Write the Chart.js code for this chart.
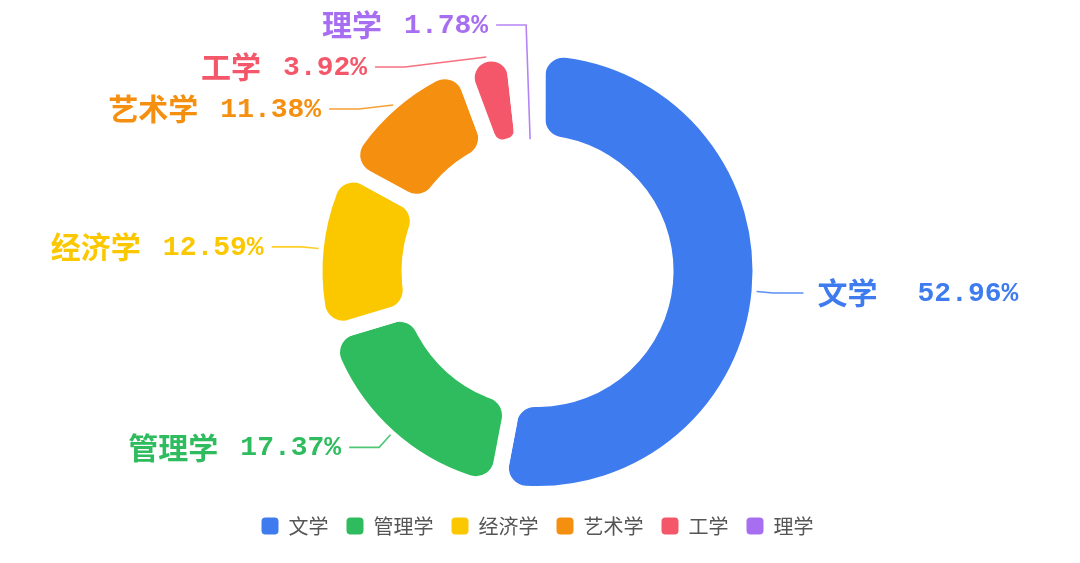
<!DOCTYPE html>
<html>
<head>
<meta charset="utf-8">
<script src="https://cdn.jsdelivr.net/npm/chart.js@4.4.0/dist/chart.umd.min.js"></script>
<style>
  html,body{margin:0;padding:0;background:#fff;}
  #wrap{width:1080px;height:563px;position:relative;}
</style>
</head>
<body>
<div id="wrap"><canvas id="pie"></canvas></div>
<script>
var subjects = ['文学','管理学','经济学','艺术学','工学','理学']
var shares = [52.96,17.37,12.59,11.38,3.92,1.78]
var colors = ['#3e7bef','#2fbc5e','#fbc800','#f58f0f','#f35769','#a76ef2']
// the 1.78% slice is swallowed by the gaps in the original, only its label shows
var fills = colors.map(function(c, i){ return shares[i] < 2 ? 'rgba(0,0,0,0)' : c })
var gapWidth = 16

// labels outside the ring, echarts style (shifted to avoid overlap)
var outLabels = {
  id: 'outLabels',
  afterDatasetsDraw: function(chart){
    var ctx = chart.ctx
    var arcs = chart.getDatasetMeta(0).data
    var len = 22, len2 = 30, gapY = 42
    var items = []
    arcs.forEach(function(arc, i){
      var p = arc.getProps(['x','y','startAngle','endAngle','outerRadius','innerRadius'], true)
      var R = p.outerRadius - gapWidth / 2
      var mid = (p.startAngle + p.endAngle) / 2
      var c = Math.cos(mid), s = Math.sin(mid)
      // a swallowed slice gets its line from the inner edge, like the original
      var a = fills[i] === colors[i] ? R + 5 : p.innerRadius + 4
      items.push({
        i: i, cx: p.x, cy: p.y, r: R,
        ax: p.x + c * a, ay: p.y + s * a,
        y: p.y + s * (R + len),
        dir: c >= 0 ? 1 : -1
      })
    })
    ;[1,-1].forEach(function(dir){
      var side = items.filter(function(it){ return it.dir === dir })
      if(!side.length) return
      side.sort(function(a,b){ return a.y - b.y })
      for(var k = 0; k < 60; k++){
        for(var j = 1; j < side.length; j++){
          var d = side[j].y - side[j-1].y
          if(d < gapY){
            side[j].y += (gapY - d) / 2
            side[j-1].y -= (gapY - d) / 2
          }
        }
        if(side[0].y < 25) side[0].y = 25
      }
      var cy = side[0].cy, rA = side[0].r + len
      var topB = rA, botB = rA
      side.forEach(function(it){
        if(it.y < cy) topB = Math.max(topB, cy - it.y)
        else botB = Math.max(botB, it.y - cy)
      })
      side.forEach(function(it){
        var dy = it.y - it.cy
        var rB = dy < 0 ? topB : botB
        var dx = rA * Math.sqrt(Math.max(0, 1 - dy * dy / (rB * rB)))
        it.ex = it.cx + dir * dx
        if(dir < 0) it.ex = Math.min(it.ex, it.ax - 4)
        else it.ex = Math.max(it.ex, it.ax + 4)
        it.tx = it.ex + dir * len2
      })
    })
    ctx.save()
    items.forEach(function(it){
      var col = colors[it.i]
      ctx.strokeStyle = col
      ctx.globalAlpha = 0.85
      ctx.lineWidth = 1.6
      ctx.beginPath()
      ctx.moveTo(it.ax, it.ay)
      ctx.lineTo(it.ex, it.y)
      ctx.lineTo(it.tx, it.y)
      ctx.stroke()
      ctx.globalAlpha = 1
      var name = subjects[it.i]
      var val = shares[it.i].toFixed(2) + '%'
      var nameFont = 'bold 30px "Noto Sans CJK SC"'
      var valFont = 'bold 28px "Liberation Mono"'
      var gap = it.dir > 0 ? 40 : 22
      ctx.fillStyle = col
      ctx.textBaseline = 'middle'
      ctx.font = nameFont
      var nw = ctx.measureText(name).width
      ctx.font = valFont
      var vw = ctx.measureText(val).width
      var x0 = it.dir > 0 ? it.tx + 14 : it.tx - 8 - (nw + gap + vw)
      ctx.textAlign = 'left'
      ctx.font = nameFont
      ctx.fillText(name, x0, it.y)
      ctx.font = valFont
      ctx.fillText(val, x0 + nw + gap, it.y + 1)
    })
    ctx.restore()
  }
}

var baseLabels = Chart.overrides.doughnut.plugins.legend.labels.generateLabels

new Chart(document.getElementById('pie'), {
  type: 'doughnut',
  data: {
    labels: subjects,
    datasets: [{
      data: shares,
      backgroundColor: fills,
      borderColor: '#ffffff',
      borderWidth: gapWidth,
      borderAlign: 'center',
      borderRadius: 26,
      hoverOffset: 0
    }]
  },
  options: {
    responsive: true,
    maintainAspectRatio: false,
    animation: false,
    radius: 223,
    cutout: '57.4%',
    layout: {padding: {top: 44, bottom: 17, right: 5}},
    plugins: {
      tooltip: {enabled: false},
      legend: {
        position: 'bottom',
        labels: {
          boxWidth: 17,
          boxHeight: 17,
          useBorderRadius: true,
          borderRadius: 4,
          padding: 18,
          color: '#555',
          font: {family: '"Noto Sans CJK SC"', size: 20},
          generateLabels: function(chart){
            return baseLabels(chart).map(function(l){
              l.fillStyle = colors[l.index]
              l.strokeStyle = colors[l.index]
              l.lineWidth = 0
              return l
            })
          }
        }
      }
    }
  },
  plugins: [outLabels]
})
</script>
</body>
</html>
